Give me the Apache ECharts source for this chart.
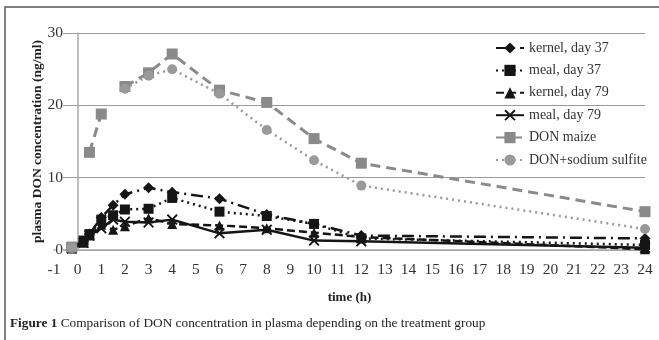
<!DOCTYPE html>
<html><head><meta charset="utf-8">
<script src="https://cdn.jsdelivr.net/npm/echarts@6/dist/echarts.min.js"></script>
<style>html,body{margin:0;padding:0;background:#fff}#c{width:659px;height:340px}</style>
</head><body><div id="c"></div>
<script>
const times = [-0.25, 0.25, 0.5, 1, 1.5, 2, 3, 4, 6, 8, 10, 12, 24];
const kernel37 = [0.3, 1.2, 2.2, 4.5, 6.2, 7.7, 8.6, 8.0, 7.1, 4.9, 3.6, 2.0, 1.6];
const meal37   = [0.4, 1.3, 2.2, 4.2, 4.8, 5.6, 5.7, 7.2, 5.3, 4.7, 3.6, 1.6, 0.7];
const kernel79 = [0.2, 1.0, 2.0, 3.5, 2.8, 3.3, 4.4, 3.6, 3.4, 3.0, 2.4, 1.8, 0.1];
const meal79   = [0.2, 1.0, 2.0, 3.0, 4.2, 3.9, 3.8, 4.2, 2.3, 2.8, 1.3, 1.2, 0.3];
const donMaize = [0.4, '-', 13.5, 18.8, '-', 22.6, 24.5, 27.1, 22.1, 20.4, 15.4, 12.0, 5.3];
const donSulf  = [0.3, '-', '-', '-', '-', 22.3, 24.1, 25.0, 21.6, 16.6, 12.4, 8.9, 2.9];
const seriesNames = ['kernel, day 37', 'meal, day 37', 'kernel, day 79', 'meal, day 79', 'DON maize', 'DON+sodium sulfite'];
const yTicks = [0, 10, 20, 30];

const xSym = 'path://M0,1.2L1.2,0L5,3.8L8.8,0L10,1.2L6.2,5L10,8.8L8.8,10L5,6.2L1.2,10L0,8.8L3.8,5Z';
function pts(vals){ return times.map((t,i)=>[t, vals[i]]); }
const serif = '"Liberation Serif","DejaVu Serif",serif';
const black = '#151515', gray = '#8a8a8a', gray2 = '#9a9a9a';

const chart = echarts.init(document.getElementById('c'));
chart.setOption({
  animation: false,
  backgroundColor: '#fff',
  grid: {left: 54, right: 14, top: 33, bottom: 90},
  xAxis: {
    type: 'value', min: -1, max: 24, interval: 1,
    name: 'time (h)', nameLocation: 'middle', nameGap: 41,
    nameTextStyle: {fontFamily: serif, fontWeight: 'bold', fontSize: 13, color: '#222'},
    axisLine: {onZero: true, lineStyle: {color: '#aaa', width: 1.5}},
    axisTick: {show: false},
    splitLine: {show: false},
    axisLabel: {fontFamily: serif, fontSize: 15.5, color: '#333', margin: 12}
  },
  yAxis: {
    type: 'value', min: 0, max: 30, interval: 10,
    name: 'plasma DON concentration (ng/ml)', nameLocation: 'middle', nameGap: 9, nameMoveOverlap: false,
    nameTextStyle: {fontFamily: serif, fontWeight: 'bold', fontSize: 13.5, color: '#222'},
    axisLine: {show: true, onZero: true, lineStyle: {color: '#aaa', width: 1.5}},
    axisTick: {show: false},
    splitLine: {lineStyle: {color: '#9a9a9a', width: 1.2}},
    axisLabel: {fontFamily: serif, fontSize: 15.5, color: '#333', margin: -9, backgroundColor: '#fff',
      formatter: v => yTicks.includes(v) ? String(v) : ''}
  },
  legend: {
    orient: 'vertical', left: 490, top: 35, itemGap: 6.4, itemWidth: 28, itemHeight: 14,
    textStyle: {fontFamily: serif, fontSize: 14, lineHeight: 16, color: '#333'},
    data: seriesNames
  },
  series: [
    {name: seriesNames[0], type: 'line', data: pts(kernel37), symbol: 'diamond', symbolSize: 11,
     itemStyle: {color: black}, lineStyle: {color: black, width: 2.5, type: [12, 5, 2, 5]}},
    {name: seriesNames[1], type: 'line', data: pts(meal37), symbol: 'rect', symbolSize: 10,
     itemStyle: {color: black}, lineStyle: {color: black, width: 2.5, type: [2, 4]}},
    {name: seriesNames[2], type: 'line', data: pts(kernel79), symbol: 'triangle', symbolSize: 10,
     itemStyle: {color: black}, lineStyle: {color: black, width: 2.5, type: [8, 4]}},
    {name: seriesNames[3], type: 'line', data: pts(meal79), symbol: xSym, symbolSize: 11,
     itemStyle: {color: black}, lineStyle: {color: black, width: 2.5, type: 'solid'}},
    {name: seriesNames[4], type: 'line', data: pts(donMaize), symbol: 'rect', symbolSize: 11,
     itemStyle: {color: gray}, lineStyle: {color: gray, width: 3, type: [10, 6]}},
    {name: seriesNames[5], type: 'line', data: pts(donSulf), symbol: 'circle', symbolSize: 10,
     itemStyle: {color: gray2}, lineStyle: {color: gray2, width: 2.5, type: [2, 4]}}
  ],
  graphic: [
    {type: 'rect', shape: {x: 5, y: 7, width: 700, height: 400}, silent: true,
     style: {fill: null, stroke: '#555', lineWidth: 1.5}},
    {type: 'text', left: 10, top: 317,
     style: {text: '{b|Figure 1} Comparison of DON concentration in plasma depending on the treatment group',
       rich: {b: {fontFamily: serif, fontWeight: 'bold', fontSize: 13.3, fill: '#222'}},
       fontFamily: serif, fontSize: 13.3, fill: '#222'}}
  ]
});
</script></body></html>
